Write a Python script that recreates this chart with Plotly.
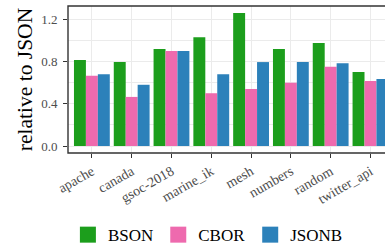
import plotly.graph_objects as go

categories = ["apache", "canada", "gsoc-2018", "marine_ik", "mesh", "numbers", "random", "twitter_api"]
bson = [0.815, 0.795, 0.92, 1.03, 1.26, 0.92, 0.975, 0.70]
cbor = [0.665, 0.465, 0.90, 0.50, 0.54, 0.60, 0.75, 0.615]
jsonb = [0.68, 0.58, 0.90, 0.68, 0.795, 0.795, 0.785, 0.635]
series_names = ["BSON", "CBOR", "JSONB"]
series_values = [bson, cbor, jsonb]
colors = ["#1C9E1C", "#EE6AAE", "#2C81BA"]
y_ticks = [0.0, 0.4, 0.8, 1.2]
y_tick_labels = ["0.0", "0.4", "0.8", "1.2"]

FONT = "Liberation Serif"

fig = go.Figure()
for name, vals, col in zip(series_names, series_values, colors):
    fig.add_trace(go.Bar(x=categories, y=vals, name=name, marker_color=col,
                         marker_line_width=0, showlegend=False))
for name, col in zip(series_names, colors):
    fig.add_trace(go.Scatter(x=[None], y=[None], mode="markers", name=name,
                             marker=dict(symbol="square", size=16, color=col),
                             showlegend=True))

fig.update_layout(
    width=385, height=248,
    margin=dict(l=68, r=0, t=6, b=95),
    paper_bgcolor="white", plot_bgcolor="white",
    barmode="group", bargap=0.1, bargroupgap=0,
    font=dict(family=FONT, color="black"),
    legend=dict(orientation="h", xref="container", yref="container",
                x=0.54, y=0.052, xanchor="center", yanchor="middle",
                font=dict(size=17, family=FONT, color="black"),
                itemwidth=30, tracegroupgap=0),
    xaxis=dict(type="category", range=[-0.6, 7.365], showgrid=True,
               gridcolor="#EBEBEB", gridwidth=1.1, ticks="outside", ticklen=4,
               tickcolor="#333333", tickwidth=1.2, tickangle=-30,
               tickfont=dict(size=14, color="#4D4D4D", family=FONT),
               showline=False, zeroline=False, automargin=False),
    yaxis=dict(range=[-0.066, 1.326], tickvals=y_ticks, ticktext=y_tick_labels,
               showgrid=True, gridcolor="#EBEBEB", gridwidth=1.1,
               minor=dict(tickvals=[0.2, 0.6, 1.0], showgrid=True,
                          gridcolor="#EBEBEB", gridwidth=0.6, ticks=""),
               ticks="outside", ticklen=4, tickcolor="#333333", tickwidth=1.2,
               tickfont=dict(size=13, color="#4D4D4D", family=FONT),
               ticklabelstandoff=3,
               title=dict(text="relative to JSON", standoff=2,
                          font=dict(size=21.5, color="black", family=FONT)),
               showline=False, zeroline=False, automargin=False),
    shapes=[dict(type="rect", xref="paper", yref="paper", x0=0, x1=1.2,
                 y0=0, y1=1, line=dict(color="#333333", width=1.4),
                 fillcolor="rgba(0,0,0,0)", layer="above")],
)

fig.write_html("out.html", config={"displayModeBar": False},
               post_script="document.body.style.margin='0';document.body.style.overflow='hidden';")
